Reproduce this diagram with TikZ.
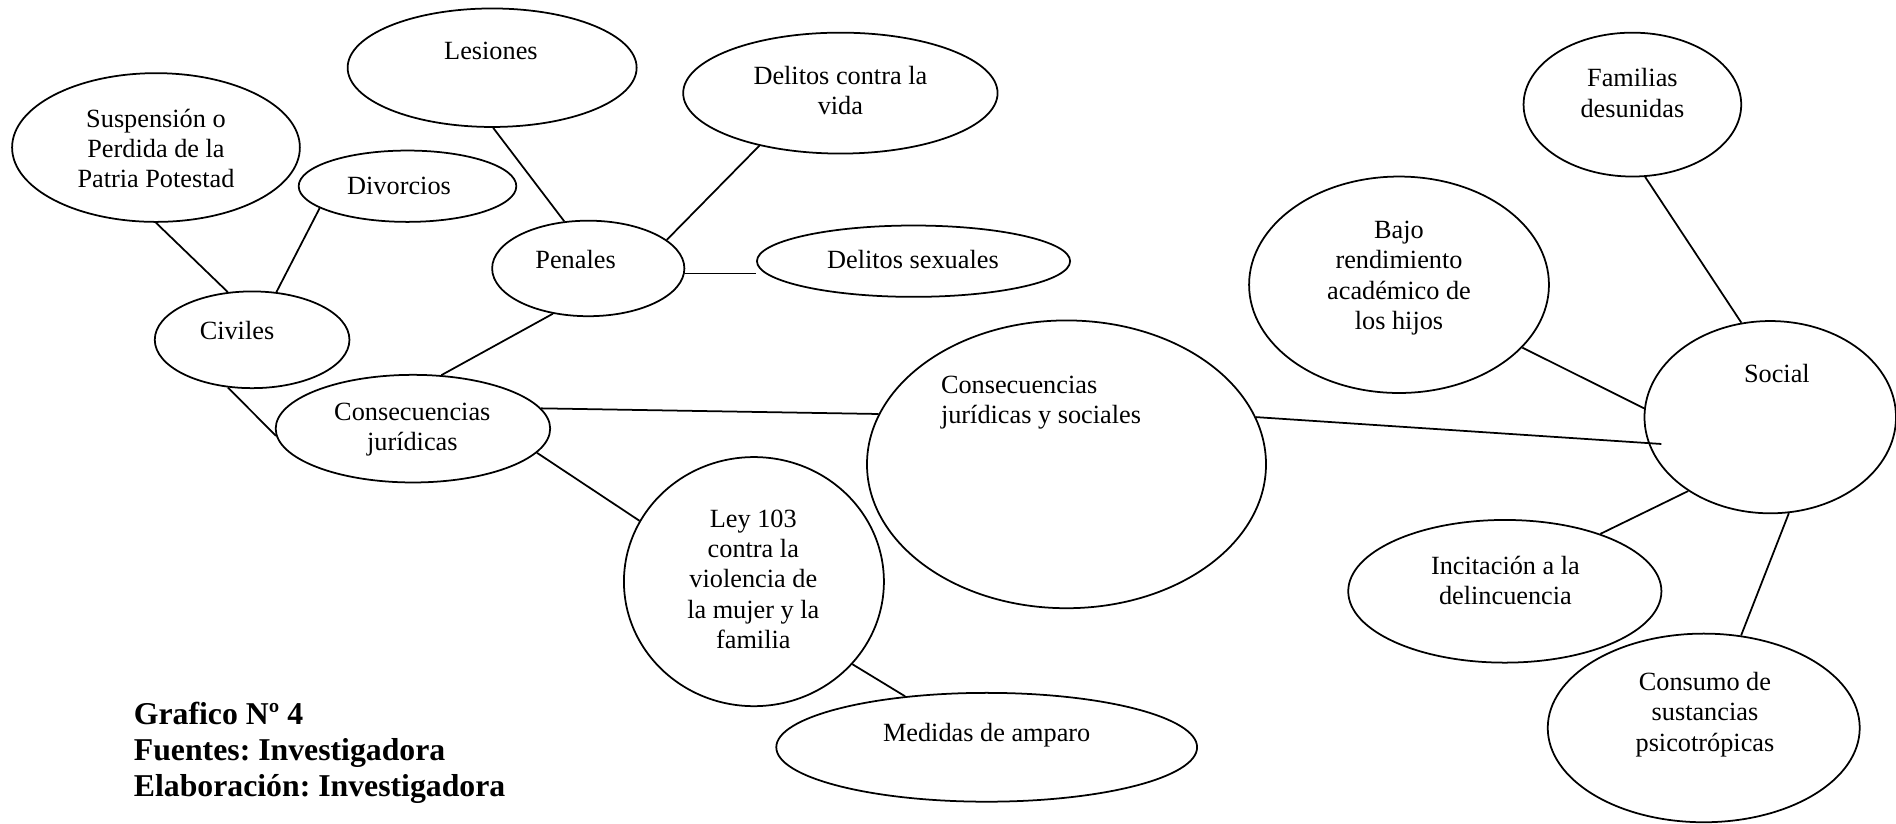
\documentclass[tikz,border=0pt]{standalone}
\usepackage{fontspec}
\setmainfont{Liberation Serif}
\usetikzlibrary{shapes.geometric}
\tikzset{bubble/.style 2 args={draw,ellipse,inner sep=0pt,minimum width=#1*0.552pt,minimum height=#2*0.552pt}}
\tikzset{txt/.style={align=center,inner sep=0pt,font=\fontsize{12pt}{13.8pt}\selectfont}}
\frenchspacing

\begin{document}
\begin{tikzpicture}[x=0.552pt,y=-0.552pt,line width=0.8pt]
\useasboundingbox (0,0) rectangle (1568,681);
% left side
\node[bubble={238}{123}] (susp) at (129,122) {};
\node[bubble={239}{98}] (lesiones) at (407,56) {};
\node[bubble={180}{59}] (divorcios) at (337,154) {};
\node[bubble={159}{79}] (penales) at (486.5,222) {};
\node[bubble={161}{80}] (civiles) at (208.5,281) {};
\node[bubble={227}{89}] (consjur) at (341.5,354.5) {};
\node[bubble={260}{100}] (delvida) at (695,77) {};
\node[bubble={259}{59}] (delsex) at (755.5,216) {};
\node[bubble={215}{206}] (ley) at (623.5,481) {};
\node[bubble={348}{90}] (medidas) at (816,618) {};
% middle
\node[bubble={330}{238}] (consjs) at (882,384) {};
% right side
\node[bubble={208}{159}] (social) at (1464,345) {};
\node[bubble={180}{119}] (familias) at (1350,86.5) {};
\node[bubble={248}{179}] (bajo) at (1157,235.5) {};
\node[bubble={259}{118}] (incit) at (1244.5,489) {};
\node[bubble={258}{156}] (consumo) at (1409,602) {};

% texts
\node[txt] (susptxt) at (129,123) {Suspensión o\\Perdida de la\\Patria Potestad};
\node[txt] (lesionestxt) at (406,42) {Lesiones};
\node[txt] (divorciostxt) at (330,153.5) {Divorcios};
\node[txt] (penalestxt) at (476,215) {Penales};
\node[txt] (civilestxt) at (196,273) {Civiles};
\node[txt] (consjurtxt) at (341,355) {Consecuencias\\jurídicas};
\node[txt] (delvidatxt) at (695,75) {Delitos contra la\\vida};
\node[txt] (delsextxt) at (755,215) {Delitos sexuales};
\node[txt] (leytxt) at (623,479) {Ley 103\\contra la\\violencia de\\la mujer y la\\familia};
\node[txt] (medidastxt) at (816,608) {Medidas de amparo};
\node[txt,align=left,anchor=west] (consjstxt) at (777.5,333) {Consecuencias\\jurídicas y sociales};
\node[txt] (socialtxt) at (1469.5,308.5) {Social};
\node[txt] (familiastxt) at (1350,77) {Familias\\desunidas};
\node[txt] (bajotxt) at (1157,230) {Bajo\\rendimiento\\académico de\\los hijos};
\node[txt] (incittxt) at (1245,480) {Incitación a la\\delincuencia};
\node[txt] (consumotxt) at (1410,591) {Consumo de\\sustancias\\psicotrópicas};
\node[txt,align=left,anchor=west,font=\bfseries\fontsize{14.5pt}{16.4pt}\selectfont] (fuente) at (110,622.5) {Grafico Nº 4\\Fuentes: Investigadora\\Elaboración: Investigadora};

% connectors
\draw (susp.-90) -- (civiles.117);
\draw (divorcios.194) -- (civiles.63);
\draw (lesiones.-89) -- (penales.117);
\draw (penales.20) -- (delvida.213);
\draw (penales.-3) -- (penales.-3 -| delsex.west);
\draw (penales.232) -- (consjur.62);
\draw (civiles.243) -- (consjur.183);
\draw (consjur.9) -- (consjs.165);
\draw (consjur.-11) -- (ley.152);
\draw (ley.-40) -- (medidas.148);
\draw[shorten >=-6pt] (consjs.14) -- (social.192);
\draw (bajo.-27) -- (social.176);
\draw (familias.-80) -- (social.107);
\draw (social.222) -- (incit.31);
\draw (social.-79) -- (consumo.68);
\end{tikzpicture}
\end{document}
